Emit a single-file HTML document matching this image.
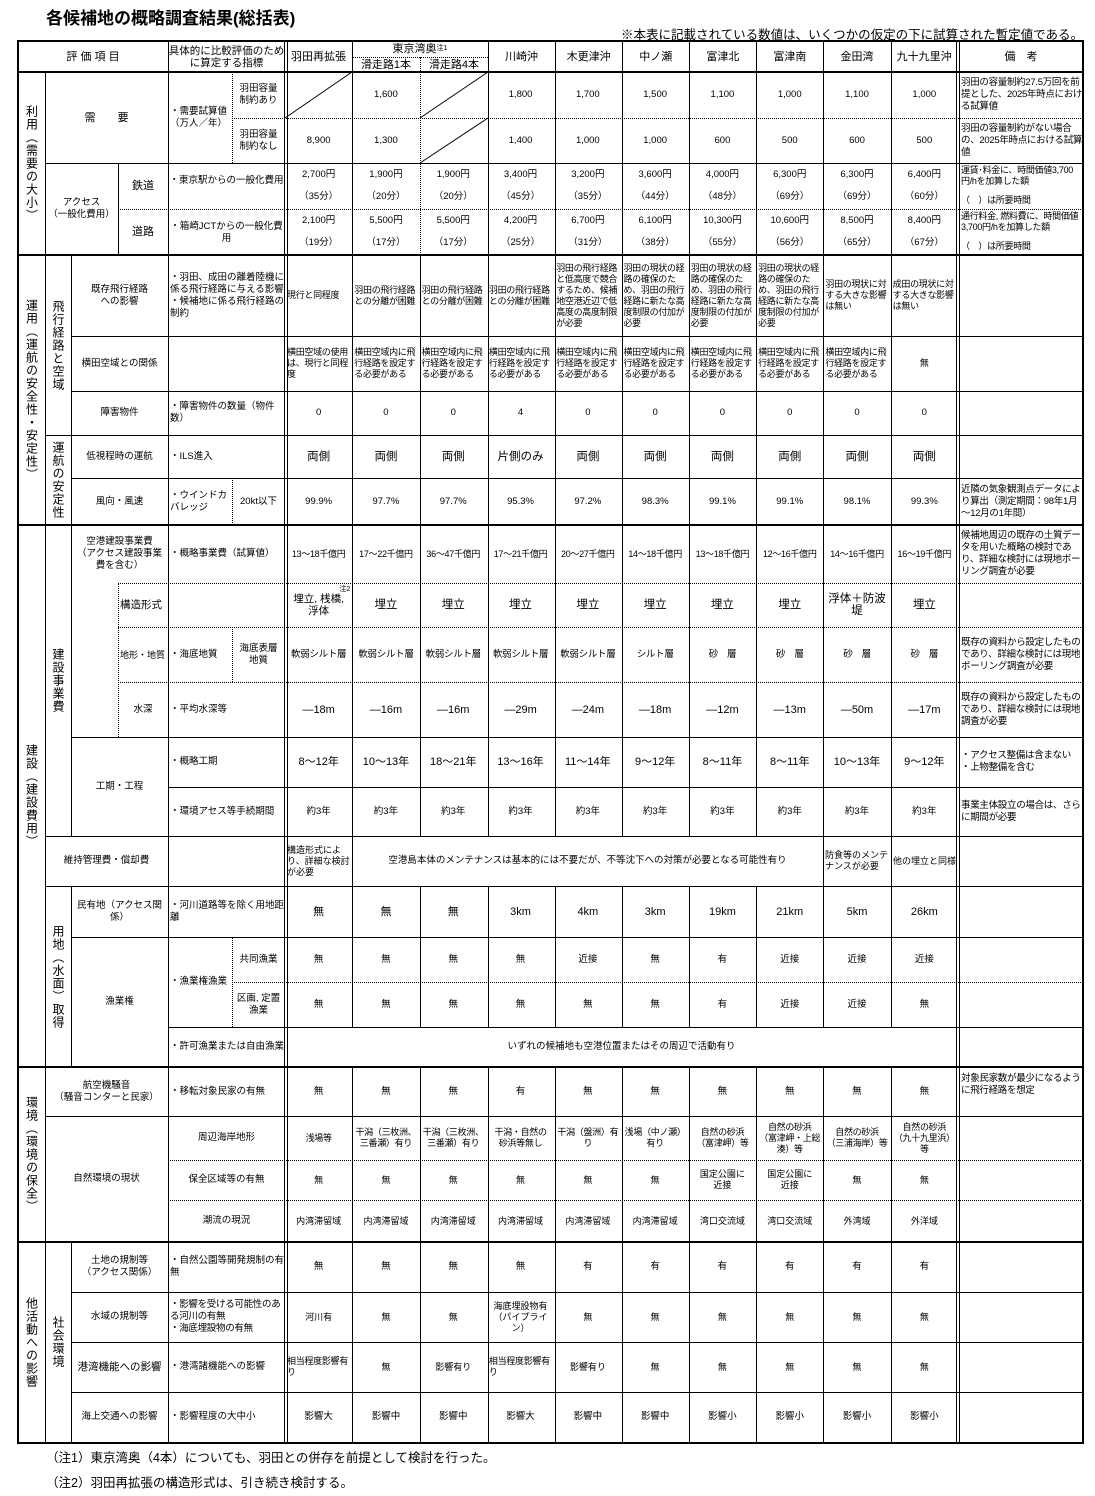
<!DOCTYPE html>
<html><head><meta charset="utf-8">
<style>
*{margin:0;padding:0;box-sizing:border-box}
body{width:1095px;height:1496px;background:#fff;position:relative;font-family:"Liberation Sans","Noto Sans CJK JP",sans-serif;color:#000;overflow:hidden}
.c{position:absolute;display:flex;align-items:center;justify-content:center;text-align:center;font-size:9.5px;line-height:12px}
.l{justify-content:flex-start;text-align:left;padding-left:2px}
.vt{writing-mode:vertical-rl;font-size:12px;line-height:12px;letter-spacing:1px}
.r{position:absolute;left:285px;width:673px;display:flex;font-size:9.5px;line-height:12px}
.r>span{width:67.3px;display:flex;align-items:center;justify-content:center;text-align:center}
.r>span.l{justify-content:flex-start;text-align:left;padding-left:2px;letter-spacing:-0.3px}
.r2>span{line-height:22px}
.b>span{font-size:11.5px}
.h{position:absolute;height:0;border-top:1px solid #000}
.hd{position:absolute;height:0;border-top:1px dotted #000}
.v{position:absolute;width:0;border-left:1px solid #000}
.vd{position:absolute;width:0;border-left:1px dotted #000}
.hh{position:absolute;height:2px;background:#000;left:18px;width:1065px}
.rm{position:absolute;left:959px;width:124px;font-size:9.5px;line-height:12px;letter-spacing:-0.3px;display:flex;align-items:center;padding-left:2px}
.rc{flex-direction:column;align-items:flex-start;justify-content:space-between;padding-top:2px;padding-bottom:3px}
</style></head><body>
<div style="position:absolute;left:46px;top:4px;font-size:17px;font-weight:bold">各候補地の概略調査結果(総括表)</div>
<div style="position:absolute;right:12px;top:24px;font-size:12.5px">※本表に記載されている数値は、いくつかの仮定の下に試算された暫定値である。</div>

<div style="position:absolute;left:17px;top:40px;width:1067px;height:1404px;border:2px solid #000"></div>
<div class="hh" style="top:71px"></div>
<div class="hh" style="top:254px"></div>
<div class="hh" style="top:524px"></div>
<div class="hh" style="top:1066px"></div>
<div class="hh" style="top:1241px"></div>
<div class="v" style="left:284px;top:41px;height:1402px"></div>
<div class="v" style="left:287px;top:41px;height:1402px"></div>
<div class="v" style="left:956px;top:41px;height:1402px"></div>
<div class="v" style="left:959px;top:41px;height:1402px"></div>

<div class="v" style="left:45px;top:72px;height:1370px"></div>
<div class="v" style="left:168px;top:41px;height:1401px"></div>
<div class="v" style="left:352px;top:41px;height:986px"></div><div class="v" style="left:352px;top:1067px;height:375px"></div>
<div class="vd" style="left:420px;top:57px;height:198px"></div><div class="v" style="left:420px;top:255px;height:581px"></div><div class="v" style="left:420px;top:886px;height:141px"></div><div class="v" style="left:420px;top:1067px;height:375px"></div>
<div class="v" style="left:488px;top:41px;height:795px"></div><div class="v" style="left:488px;top:886px;height:141px"></div><div class="v" style="left:488px;top:1067px;height:375px"></div>
<div class="v" style="left:555px;top:41px;height:795px"></div><div class="v" style="left:555px;top:886px;height:141px"></div><div class="v" style="left:555px;top:1067px;height:375px"></div>
<div class="v" style="left:622px;top:41px;height:795px"></div><div class="v" style="left:622px;top:886px;height:141px"></div><div class="v" style="left:622px;top:1067px;height:375px"></div>
<div class="v" style="left:689px;top:41px;height:795px"></div><div class="v" style="left:689px;top:886px;height:141px"></div><div class="v" style="left:689px;top:1067px;height:375px"></div>
<div class="v" style="left:756px;top:41px;height:795px"></div><div class="v" style="left:756px;top:886px;height:141px"></div><div class="v" style="left:756px;top:1067px;height:375px"></div>
<div class="v" style="left:823px;top:41px;height:986px"></div><div class="v" style="left:823px;top:1067px;height:375px"></div>
<div class="v" style="left:891px;top:41px;height:986px"></div><div class="v" style="left:891px;top:1067px;height:375px"></div>
<div class="v" style="left:71px;top:255px;height:581px"></div>
<div class="v" style="left:71px;top:886px;height:181px"></div>
<div class="v" style="left:71px;top:1242px;height:200px"></div>
<div class="v" style="left:118px;top:163px;height:92px"></div>
<div class="vd" style="left:118px;top:583px;height:154px"></div>
<div class="vd" style="left:232px;top:72px;height:91px"></div>
<div class="vd" style="left:232px;top:478px;height:47px"></div>
<div class="vd" style="left:232px;top:627px;height:55px"></div>
<div class="vd" style="left:232px;top:937px;height:90px"></div>

<div class="hd" style="left:352px;top:57px;width:136px"></div>
<div class="hd" style="left:232px;top:118px;width:851px"></div>
<div class="h" style="left:45px;top:163px;width:1038px"></div>
<div class="hd" style="left:118px;top:209px;width:965px"></div>
<div class="h" style="left:71px;top:336px;width:1012px"></div>
<div class="h" style="left:71px;top:391px;width:1012px"></div>
<div class="h" style="left:45px;top:435px;width:1038px"></div>
<div class="h" style="left:71px;top:478px;width:1012px"></div>
<div class="hd" style="left:118px;top:583px;width:965px"></div>
<div class="hd" style="left:118px;top:627px;width:965px"></div>
<div class="hd" style="left:118px;top:682px;width:965px"></div>
<div class="h" style="left:71px;top:737px;width:1012px"></div>
<div class="h" style="left:168px;top:787px;width:915px"></div>
<div class="h" style="left:45px;top:836px;width:1038px"></div>
<div class="h" style="left:45px;top:886px;width:1038px"></div>
<div class="h" style="left:71px;top:937px;width:1012px"></div>
<div class="hd" style="left:232px;top:982px;width:851px"></div>
<div class="h" style="left:168px;top:1027px;width:915px"></div>
<div class="h" style="left:45px;top:1116px;width:1038px"></div>
<div class="hd" style="left:168px;top:1160px;width:915px"></div>
<div class="hd" style="left:168px;top:1200px;width:915px"></div>
<div class="h" style="left:71px;top:1292px;width:1012px"></div>
<div class="h" style="left:71px;top:1342px;width:1012px"></div>
<div class="h" style="left:71px;top:1392px;width:1012px"></div>

<svg style="position:absolute;left:0;top:0" width="1095" height="300">
<line x1="285" y1="118" x2="352" y2="72" stroke="#000" stroke-width="1"/>
<line x1="420" y1="118" x2="488" y2="72" stroke="#000" stroke-width="1"/>
<line x1="420" y1="163" x2="488" y2="118" stroke="#000" stroke-width="1"/>
</svg>

<div class="c" style="left:18px;top:41px;width:150px;height:31px;font-size:11px">評 価 項 目</div>
<div class="c" style="left:168px;top:41px;width:117px;height:31px;font-size:10.5px">具体的に比較評価のために算定する指標</div>
<div class="c" style="left:285px;top:41px;width:67px;height:31px;font-size:11px">羽田再拡張</div>
<div class="c" style="left:352px;top:41px;width:136px;height:16px;font-size:11px">東京湾奥<sup style="font-size:7px">注1</sup></div>
<div class="c" style="left:352px;top:57px;width:68px;height:15px;font-size:11px">滑走路1本</div>
<div class="c" style="left:420px;top:57px;width:68px;height:15px;font-size:11px">滑走路4本</div>
<div class="r" style="top:41px;height:31px;left:488px;width:470px"><span style="width:67.1px;font-size:11px">川崎沖</span><span style="width:67.1px;font-size:11px">木更津沖</span><span style="width:67.1px;font-size:11px">中ノ瀬</span><span style="width:67.1px;font-size:11px">富津北</span><span style="width:67.1px;font-size:11px">富津南</span><span style="width:67.1px;font-size:11px">金田湾</span><span style="width:67.1px;font-size:11px">九十九里沖</span></div>
<div class="c" style="left:959px;top:41px;width:124px;height:31px;font-size:11px">備　考</div>

<div class="c vt" style="left:18px;top:72px;width:27px;height:183px">利用（需要の大小）</div>
<div class="c" style="left:45px;top:72px;width:123px;height:91px;font-size:11px">需　　要</div>
<div class="c l" style="left:168px;top:72px;width:64px;height:91px">・需要試算値（万人／年）</div>
<div class="c" style="left:232px;top:72px;width:53px;height:46px">羽田容量<br>制約あり</div>
<div class="c" style="left:232px;top:118px;width:53px;height:45px">羽田容量<br>制約なし</div>
<div class="c" style="left:45px;top:163px;width:73px;height:92px">アクセス<br>（一般化費用）</div>
<div class="c" style="left:118px;top:163px;width:50px;height:46px;font-size:11px">鉄道</div>
<div class="c" style="left:118px;top:209px;width:50px;height:46px;font-size:11px">道路</div>
<div class="c" style="left:168px;top:163px;width:117px;height:46px;align-items:flex-start;padding-top:12px">・東京駅からの一般化費用</div>
<div class="c" style="left:168px;top:209px;width:117px;height:46px;align-items:flex-start;padding-top:12px">・箱崎JCTからの一般化費用</div>

<div class="r" style="top:72px;height:46px"><span></span><span>1,600</span><span></span><span>1,800</span><span>1,700</span><span>1,500</span><span>1,100</span><span>1,000</span><span>1,100</span><span>1,000</span></div>
<div class="r" style="top:118px;height:45px"><span>8,900</span><span>1,300</span><span></span><span>1,400</span><span>1,000</span><span>1,000</span><span>600</span><span>500</span><span>600</span><span>500</span></div>
<div class="r r2" style="top:163px;height:46px"><span>2,700円<br>（35分）</span><span>1,900円<br>（20分）</span><span>1,900円<br>（20分）</span><span>3,400円<br>（45分）</span><span>3,200円<br>（35分）</span><span>3,600円<br>（44分）</span><span>4,000円<br>（48分）</span><span>6,300円<br>（69分）</span><span>6,300円<br>（69分）</span><span>6,400円<br>（60分）</span></div>
<div class="r r2" style="top:209px;height:46px"><span>2,100円<br>（19分）</span><span>5,500円<br>（17分）</span><span>5,500円<br>（17分）</span><span>4,200円<br>（25分）</span><span>6,700円<br>（31分）</span><span>6,100円<br>（38分）</span><span>10,300円<br>（55分）</span><span>10,600円<br>（56分）</span><span>8,500円<br>（65分）</span><span>8,400円<br>（67分）</span></div>
<div class="rm" style="top:72px;height:46px">羽田の容量制約27.5万回を前提とした、2025年時点における試算値</div>
<div class="rm" style="top:118px;height:45px">羽田の容量制約がない場合の、2025年時点における試算値</div>
<div class="rm rc" style="top:163px;height:46px;font-size:9px;line-height:11px"><div>運賃･料金に、時間価値3,700円/hを加算した額</div><div>（　）は所要時間</div></div>
<div class="rm rc" style="top:209px;height:46px;font-size:9px;line-height:11px"><div>通行料金, 燃料費に、時間価値3,700円/hを加算した額</div><div>（　）は所要時間</div></div>

<div class="c vt" style="left:18px;top:255px;width:27px;height:270px">運用（運航の安全性・安定性）</div>
<div class="c vt" style="left:45px;top:255px;width:26px;height:180px">飛行経路と空域</div>
<div class="c vt" style="left:45px;top:435px;width:26px;height:90px">運航の安定性</div>
<div class="c" style="left:71px;top:255px;width:97px;height:81px">既存飛行経路<br>への影響</div>
<div class="c l" style="left:168px;top:255px;width:117px;height:81px">・羽田、成田の離着陸機に係る飛行経路に与える影響<br>・候補地に係る飛行経路の制約</div>
<div class="c" style="left:71px;top:336px;width:97px;height:55px">横田空域との関係</div>
<div class="c" style="left:71px;top:391px;width:97px;height:44px">障害物件</div>
<div class="c l" style="left:168px;top:391px;width:117px;height:44px">・障害物件の数量（物件数）</div>
<div class="c" style="left:71px;top:435px;width:97px;height:43px">低視程時の運航</div>
<div class="c l" style="left:168px;top:435px;width:117px;height:43px">・ILS進入</div>
<div class="c" style="left:71px;top:478px;width:97px;height:47px">風向・風速</div>
<div class="c l" style="left:168px;top:478px;width:64px;height:47px">・ウインドカバレッジ</div>
<div class="c" style="left:232px;top:478px;width:53px;height:47px">20kt以下</div>

<div class="r" style="top:255px;height:81px;font-size:9px;line-height:11px"><span class="l">現行と同程度</span><span class="l">羽田の飛行経路との分離が困難</span><span class="l">羽田の飛行経路との分離が困難</span><span class="l">羽田の飛行経路との分離が困難</span><span class="l">羽田の飛行経路と低高度で競合するため、候補地空港近辺で低高度の高度制限が必要</span><span class="l">羽田の現状の経路の確保のため、羽田の飛行経路に新たな高度制限の付加が必要</span><span class="l">羽田の現状の経路の確保のため、羽田の飛行経路に新たな高度制限の付加が必要</span><span class="l">羽田の現状の経路の確保のため、羽田の飛行経路に新たな高度制限の付加が必要</span><span class="l">羽田の現状に対する大きな影響は無い</span><span class="l">成田の現状に対する大きな影響は無い</span></div>
<div class="r" style="top:336px;height:55px;font-size:9px;line-height:11px"><span class="l">横田空域の使用は、現行と同程度</span><span class="l">横田空域内に飛行経路を設定する必要がある</span><span class="l">横田空域内に飛行経路を設定する必要がある</span><span class="l">横田空域内に飛行経路を設定する必要がある</span><span class="l">横田空域内に飛行経路を設定する必要がある</span><span class="l">横田空域内に飛行経路を設定する必要がある</span><span class="l">横田空域内に飛行経路を設定する必要がある</span><span class="l">横田空域内に飛行経路を設定する必要がある</span><span class="l">横田空域内に飛行経路を設定する必要がある</span><span>無</span></div>
<div class="r" style="top:391px;height:44px"><span>0</span><span>0</span><span>0</span><span>4</span><span>0</span><span>0</span><span>0</span><span>0</span><span>0</span><span>0</span></div>
<div class="r b" style="top:435px;height:43px"><span>両側</span><span>両側</span><span>両側</span><span>片側のみ</span><span>両側</span><span>両側</span><span>両側</span><span>両側</span><span>両側</span><span>両側</span></div>
<div class="r" style="top:478px;height:47px"><span>99.9%</span><span>97.7%</span><span>97.7%</span><span>95.3%</span><span>97.2%</span><span>98.3%</span><span>99.1%</span><span>99.1%</span><span>98.1%</span><span>99.3%</span></div>
<div class="rm" style="top:478px;height:47px">近隣の気象観測点データにより算出（測定期間：98年1月～12月の1年間）</div>

<div class="c vt" style="left:18px;top:525px;width:27px;height:542px">建設（建設費用）</div>
<div class="c vt" style="left:45px;top:525px;width:26px;height:311px">建設事業費</div>
<div class="c" style="left:71px;top:525px;width:97px;height:58px">空港建設事業費<br>（アクセス建設事業<br>費を含む）</div>
<div class="c l" style="left:168px;top:525px;width:117px;height:58px">・概略事業費（試算値）</div>
<div class="c l" style="left:118px;top:583px;width:50px;height:44px;font-size:10.5px">構造形式</div>
<div class="c l" style="left:118px;top:627px;width:50px;height:55px;font-size:9px">地形・地質</div>
<div class="c l" style="left:168px;top:627px;width:64px;height:55px">・海底地質</div>
<div class="c" style="left:232px;top:627px;width:53px;height:55px">海底表層<br>地質</div>
<div class="c" style="left:118px;top:682px;width:50px;height:55px">水深</div>
<div class="c l" style="left:168px;top:682px;width:117px;height:55px">・平均水深等</div>
<div class="c" style="left:71px;top:737px;width:97px;height:99px">工期・工程</div>
<div class="c l" style="left:168px;top:737px;width:117px;height:50px">・概略工期</div>
<div class="c l" style="left:168px;top:787px;width:117px;height:49px">・環境アセス等手続期間</div>
<div class="c" style="left:45px;top:836px;width:123px;height:50px">維持管理費・償却費</div>
<div class="c vt" style="left:45px;top:886px;width:26px;height:181px">用地（水面）取得</div>
<div class="c" style="left:71px;top:886px;width:97px;height:51px">民有地（アクセス関<br>係）</div>
<div class="c l" style="left:168px;top:886px;width:117px;height:51px">・河川道路等を除く用地距離</div>
<div class="c" style="left:71px;top:937px;width:97px;height:130px">漁業権</div>
<div class="c l" style="left:168px;top:937px;width:64px;height:90px">・漁業権漁業</div>
<div class="c" style="left:232px;top:937px;width:53px;height:45px">共同漁業</div>
<div class="c" style="left:232px;top:982px;width:53px;height:45px">区画, 定置<br>漁業</div>
<div class="c l" style="left:168px;top:1027px;width:117px;height:40px">・許可漁業または自由漁業</div>

<div class="r" style="top:525px;height:58px;font-size:9px;letter-spacing:-0.3px"><span>13～18千億円</span><span>17～22千億円</span><span>36～47千億円</span><span>17～21千億円</span><span>20～27千億円</span><span>14～18千億円</span><span>13～18千億円</span><span>12～16千億円</span><span>14～16千億円</span><span>16～19千億円</span></div>
<div class="r b" style="top:583px;height:44px"><span style="position:relative;font-size:10.5px">埋立, 桟橋,<br>浮体<i style="position:absolute;right:2px;top:1px;font-size:7px;font-style:normal">注2</i></span><span>埋立</span><span>埋立</span><span>埋立</span><span>埋立</span><span>埋立</span><span>埋立</span><span>埋立</span><span>浮体＋防波<br>堤</span><span>埋立</span></div>
<div class="r" style="top:627px;height:55px;letter-spacing:-0.3px"><span>軟弱シルト層</span><span>軟弱シルト層</span><span>軟弱シルト層</span><span>軟弱シルト層</span><span>軟弱シルト層</span><span>シルト層</span><span>砂　層</span><span>砂　層</span><span>砂　層</span><span>砂　層</span></div>
<div class="r" style="top:682px;height:55px;font-size:11px"><span>—18m</span><span>—16m</span><span>—16m</span><span>—29m</span><span>—24m</span><span>—18m</span><span>—12m</span><span>—13m</span><span>—50m</span><span>—17m</span></div>
<div class="r" style="top:737px;height:50px;font-size:11px"><span>8～12年</span><span>10～13年</span><span>18～21年</span><span>13～16年</span><span>11～14年</span><span>9～12年</span><span>8～11年</span><span>8～11年</span><span>10～13年</span><span>9～12年</span></div>
<div class="r" style="top:787px;height:49px"><span>約3年</span><span>約3年</span><span>約3年</span><span>約3年</span><span>約3年</span><span>約3年</span><span>約3年</span><span>約3年</span><span>約3年</span><span>約3年</span></div>
<div class="c l" style="left:285px;top:836px;width:67px;height:50px;font-size:9px;line-height:11px">構造形式により、詳細な検討が必要</div>
<div class="c" style="left:352px;top:836px;width:471px;height:50px">空港島本体のメンテナンスは基本的には不要だが、不等沈下への対策が必要となる可能性有り</div>
<div class="c l" style="left:823px;top:836px;width:68px;height:50px;font-size:9px;line-height:11px">防食等のメンテナンスが必要</div>
<div class="c l" style="left:891px;top:836px;width:67px;height:50px;font-size:9px;line-height:11px">他の埋立と同様</div>
<div class="r" style="top:886px;height:51px;font-size:11px"><span>無</span><span>無</span><span>無</span><span>3km</span><span>4km</span><span>3km</span><span>19km</span><span>21km</span><span>5km</span><span>26km</span></div>
<div class="r" style="top:937px;height:45px"><span>無</span><span>無</span><span>無</span><span>無</span><span>近接</span><span>無</span><span>有</span><span>近接</span><span>近接</span><span>近接</span></div>
<div class="r" style="top:982px;height:45px"><span>無</span><span>無</span><span>無</span><span>無</span><span>無</span><span>無</span><span>有</span><span>近接</span><span>近接</span><span>無</span></div>
<div class="c" style="left:285px;top:1027px;width:673px;height:40px">いずれの候補地も空港位置またはその周辺で活動有り</div>
<div class="rm" style="top:525px;height:58px">候補地周辺の既存の土質データを用いた概略の検討であり、詳細な検討には現地ボーリング調査が必要</div>
<div class="rm" style="top:627px;height:55px">既存の資料から設定したものであり、詳細な検討には現地ボーリング調査が必要</div>
<div class="rm" style="top:682px;height:55px">既存の資料から設定したものであり、詳細な検討には現地調査が必要</div>
<div class="rm" style="top:737px;height:50px">・アクセス整備は含まない<br>・上物整備を含む</div>
<div class="rm" style="top:787px;height:49px">事業主体設立の場合は、さらに期間が必要</div>

<div class="c vt" style="left:18px;top:1067px;width:27px;height:175px">環境（環境の保全）</div>
<div class="c" style="left:45px;top:1067px;width:123px;height:49px">航空機騒音<br>（騒音コンターと民家）</div>
<div class="c l" style="left:168px;top:1067px;width:117px;height:49px">・移転対象民家の有無</div>
<div class="c" style="left:45px;top:1116px;width:123px;height:126px">自然環境の現状</div>
<div class="c" style="left:168px;top:1116px;width:117px;height:44px">周辺海岸地形</div>
<div class="c" style="left:168px;top:1160px;width:117px;height:40px">保全区域等の有無</div>
<div class="c" style="left:168px;top:1200px;width:117px;height:42px">潮流の現況</div>
<div class="r" style="top:1067px;height:49px"><span>無</span><span>無</span><span>無</span><span>有</span><span>無</span><span>無</span><span>無</span><span>無</span><span>無</span><span>無</span></div>
<div class="r" style="top:1116px;height:44px;font-size:9px;line-height:11px;letter-spacing:-0.3px"><span>浅場等</span><span>干潟（三枚洲、<br>三番瀬）有り</span><span>干潟（三枚洲、<br>三番瀬）有り</span><span>干潟・自然の<br>砂浜等無し</span><span>干潟（盤洲）有<br>り</span><span>浅場（中ノ瀬）<br>有り</span><span>自然の砂浜<br>（富津岬）等</span><span>自然の砂浜<br>（富津岬・上総<br>湊）等</span><span>自然の砂浜<br>（三浦海岸）等</span><span>自然の砂浜<br>（九十九里浜）<br>等</span></div>
<div class="r" style="top:1160px;height:40px;font-size:9px;line-height:11px"><span>無</span><span>無</span><span>無</span><span>無</span><span>無</span><span>無</span><span>国定公園に<br>近接</span><span>国定公園に<br>近接</span><span>無</span><span>無</span></div>
<div class="r" style="top:1200px;height:42px;font-size:9px"><span>内湾滞留域</span><span>内湾滞留域</span><span>内湾滞留域</span><span>内湾滞留域</span><span>内湾滞留域</span><span>内湾滞留域</span><span>湾口交流域</span><span>湾口交流域</span><span>外湾域</span><span>外洋域</span></div>
<div class="rm" style="top:1067px;height:49px;align-items:flex-start;padding-top:6px">対象民家数が最少になるように飛行経路を想定</div>

<div class="c vt" style="left:18px;top:1242px;width:27px;height:200px">他活動への影響</div>
<div class="c vt" style="left:45px;top:1242px;width:26px;height:200px">社会環境</div>
<div class="c" style="left:71px;top:1242px;width:97px;height:50px">土地の規制等<br>（アクセス関係）</div>
<div class="c l" style="left:168px;top:1242px;width:117px;height:50px">・自然公園等開発規制の有無</div>
<div class="c" style="left:71px;top:1292px;width:97px;height:50px">水域の規制等</div>
<div class="c l" style="left:168px;top:1292px;width:117px;height:50px;letter-spacing:-0.3px">・影響を受ける可能性のある河川の有無<br>・海底埋設物の有無</div>
<div class="c" style="left:71px;top:1342px;width:97px;height:50px;font-size:10.5px">港湾機能への影響</div>
<div class="c l" style="left:168px;top:1342px;width:117px;height:50px">・港湾諸機能への影響</div>
<div class="c" style="left:71px;top:1392px;width:97px;height:50px">海上交通への影響</div>
<div class="c l" style="left:168px;top:1392px;width:117px;height:50px">・影響程度の大中小</div>
<div class="r" style="top:1242px;height:50px"><span>無</span><span>無</span><span>無</span><span>無</span><span>有</span><span>有</span><span>有</span><span>有</span><span>有</span><span>有</span></div>
<div class="r" style="top:1292px;height:50px;font-size:9px;line-height:11px"><span>河川有</span><span>無</span><span>無</span><span>海底埋設物有<br>（パイプライン）</span><span>無</span><span>無</span><span>無</span><span>無</span><span>無</span><span>無</span></div>
<div class="r" style="top:1342px;height:50px;font-size:9px;line-height:11px"><span class="l">相当程度影響有り</span><span>無</span><span>影響有り</span><span class="l">相当程度影響有り</span><span>影響有り</span><span>無</span><span>無</span><span>無</span><span>無</span><span>無</span></div>
<div class="r" style="top:1392px;height:50px"><span>影響大</span><span>影響中</span><span>影響中</span><span>影響大</span><span>影響中</span><span>影響中</span><span>影響小</span><span>影響小</span><span>影響小</span><span>影響小</span></div>

<div style="position:absolute;left:46px;top:1447px;font-size:12.5px">（注1）東京湾奥（4本）についても、羽田との併存を前提として検討を行った。</div>
<div style="position:absolute;left:46px;top:1472px;font-size:12.5px">（注2）羽田再拡張の構造形式は、引き続き検討する。</div>
</body></html>
